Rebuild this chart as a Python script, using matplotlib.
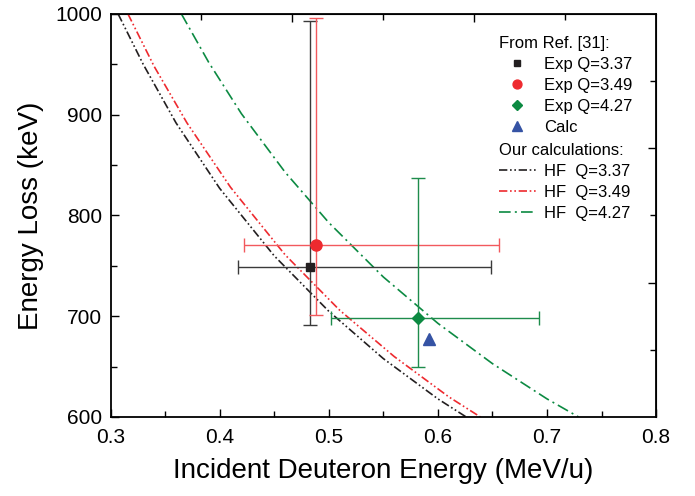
import matplotlib
matplotlib.use("Agg")
import matplotlib.pyplot as plt
from matplotlib.lines import Line2D

plt.rcParams['font.family'] = ['Liberation Sans', 'DejaVu Sans']

# courbes HF
hf337_x = [0.307, 0.33, 0.36, 0.40, 0.45, 0.50, 0.55, 0.60, 0.626]
hf337_y = [1000, 950, 892, 827, 760, 705, 658, 618, 600]
hf349_x = [0.316, 0.34, 0.37, 0.41, 0.46, 0.51, 0.56, 0.61, 0.639]
hf349_y = [1000, 948, 892, 828, 761, 706, 660, 620, 600]
hf427_x = [0.365, 0.39, 0.42, 0.46, 0.50, 0.55, 0.60, 0.65, 0.70, 0.729]
hf427_y = [1000, 952, 901, 843, 793, 739, 693, 653, 618, 600]

# points experimentaux (Ref. [31])
exp_labels = ["Exp Q=3.37", "Exp Q=3.49", "Exp Q=4.27"]
exp_x = [0.4825, 0.488, 0.582]
exp_y = [749, 771, 698]
exp_xlo = [0.417, 0.422, 0.502]
exp_xhi = [0.649, 0.656, 0.693]
exp_ylo = [691, 701, 650]
exp_yhi = [993, 996, 837]
calc_x = [0.592]
calc_y = [677]

black = "#231f20"
red = "#ee2a2f"
green = "#0c8a42"
blue = "#3553a4"
exp_colors = [black, red, green]
bar_colors = ["#3a3a3a", "#f2595d", "#1e8c4c"]
exp_markers = ["s", "o", "D"]
exp_sizes = [6, 8, 6.5]

fig = plt.figure(figsize=(6.95, 4.96), dpi=100)
ax = fig.add_axes([0.159, 0.1593, 0.785, 0.8125])

dd = (0, (5, 1.6, 1, 1.6, 1, 1.6))
dg = (0, (7, 2.5, 1.2, 2.5))
ax.plot(hf337_x, hf337_y, color=black, lw=1.2, ls=dd)
ax.plot(hf349_x, hf349_y, color=red, lw=1.2, ls=dd)
ax.plot(hf427_x, hf427_y, color=green, lw=1.2, ls=dg)

for i in range(3):
    xerr = [[exp_x[i] - exp_xlo[i]], [exp_xhi[i] - exp_x[i]]]
    yerr = [[exp_y[i] - exp_ylo[i]], [exp_yhi[i] - exp_y[i]]]
    ax.errorbar([exp_x[i]], [exp_y[i]], xerr=xerr, yerr=yerr, fmt="none",
                ecolor=bar_colors[i], elinewidth=1, capsize=5, capthick=1, zorder=3)
    ax.plot([exp_x[i]], [exp_y[i]], marker=exp_markers[i], ms=exp_sizes[i],
            color=exp_colors[i], ls="none", zorder=4)
ax.plot(calc_x, calc_y, marker="^", ms=8, color=blue, ls="none", zorder=4)

ax.set_xlim(0.3, 0.8)
ax.set_ylim(600, 1000)
ax.set_xticks([0.3, 0.4, 0.5, 0.6, 0.7, 0.8])
ax.set_xticks([0.35, 0.45, 0.55, 0.65, 0.75], minor=True)
ax.set_yticks([600, 700, 800, 900, 1000])
ax.set_yticks([650, 750, 850, 950], minor=True)
ax.tick_params(which="both", direction="in", labelsize=15, width=1)
ax.tick_params(which="major", length=6)
ax.tick_params(axis="x", which="major", pad=8)
ax.tick_params(axis="y", which="major", pad=6)
ax.tick_params(which="minor", length=4)
for s in ax.spines.values():
    s.set_linewidth(1.3)

# axes du haut et de droite : 6 intervalles
top = ax.secondary_xaxis("top")
top.set_xticks([0.3 + 0.5 / 6 * k for k in (2, 4)])
top.set_xticks([0.3 + 0.5 / 6 * k for k in (1, 3, 5)], minor=True)
top.set_xticklabels([])
top.tick_params(which="both", direction="in", width=1)
top.tick_params(which="major", length=6)
top.tick_params(which="minor", length=4)
right = ax.secondary_yaxis("right")
right.set_yticks([600 + 400 / 6 * k for k in (2, 4)])
right.set_yticks([600 + 400 / 6 * k for k in (1, 3, 5)], minor=True)
right.set_yticklabels([])
right.tick_params(which="both", direction="in", width=1)
right.tick_params(which="major", length=6)
right.tick_params(which="minor", length=4)

ax.set_xlabel("Incident Deuteron Energy (MeV/u)", fontsize=20, labelpad=8)
ax.set_ylabel("Energy Loss (keV)", fontsize=20, labelpad=8)

# legendes
h1 = [Line2D([], [], marker=m, color=c, ls="none", ms=s * 0.8)
      for m, c, s in zip(exp_markers, exp_colors, exp_sizes)]
h1.append(Line2D([], [], marker="^", color=blue, ls="none", ms=7))
leg1 = fig.legend(h1, exp_labels + ["Calc"], title="From Ref. [31]:",
                  loc="upper left", bbox_to_anchor=(0.718, 0.928),
                  frameon=False, fontsize=12, title_fontsize=12,
                  alignment="left", borderpad=0, borderaxespad=0,
                  handlelength=2.2, handletextpad=0.5, labelspacing=0.36)
h2 = [Line2D([], [], color=black, lw=1.2, ls=dd),
      Line2D([], [], color=red, lw=1.2, ls=dd),
      Line2D([], [], color=green, lw=1.2, ls=dg)]
leg2 = fig.legend(h2, ["HF  Q=3.37", "HF  Q=3.49", "HF  Q=4.27"],
                  title="Our calculations:",
                  loc="upper left", bbox_to_anchor=(0.718, 0.712),
                  frameon=False, fontsize=12, title_fontsize=12,
                  alignment="left", borderpad=0, borderaxespad=0,
                  handlelength=2.2, handletextpad=0.5, labelspacing=0.36)

fig.savefig("out.png", dpi=100)
